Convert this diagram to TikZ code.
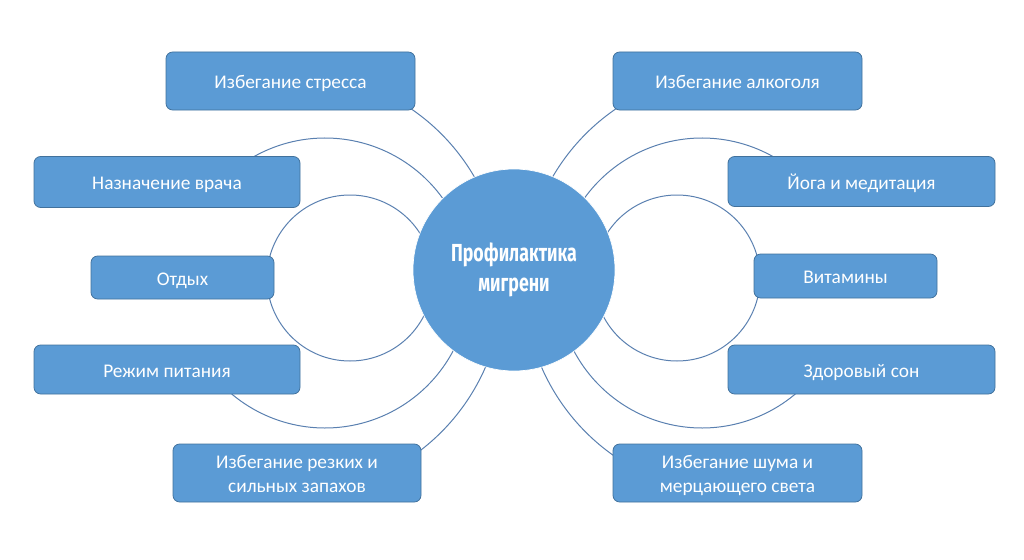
\documentclass[tikz,border=0pt]{standalone}
\usepackage{fontspec}
\setmainfont{Carlito}
\newfontfamily\condfont[FakeStretch=0.72]{Fira Sans}
\definecolor{boxblue}{HTML}{5B9BD5}
\definecolor{edgeblue}{HTML}{41719C}
\definecolor{arcblue}{HTML}{5A80B0}
\begin{document}
\begin{tikzpicture}[x=0.75pt,y=-0.75pt,
  box/.style={rectangle, rounded corners=5pt, fill=boxblue, draw=edgeblue, line width=0.6pt,
    text=white, font=\fontsize{14.5}{18}\selectfont, align=center, inner sep=0pt,
    text height=11.5pt, text depth=0pt},
  twoline/.style={text height=29.5pt, text depth=0pt},
  arcline/.style={draw=arcblue, line width=0.75pt},
  hub/.style={circle, fill=boxblue, draw=white, line width=0.5pt, minimum size=151.5pt, inner sep=0pt,
    text=white, align=center, font=\condfont\bfseries\fontsize{18.5}{22.5}\selectfont}]
\useasboundingbox (0,0) rectangle (1024,560);
% arc centres
\coordinate (oL) at (292,283);
\coordinate (mL) at (325,283);
\coordinate (iL) at (350,278);
\coordinate (oR) at (735,283);
\coordinate (mR) at (702,283);
\coordinate (iR) at (677,278);
% left arcs
\draw[arcline] ([shift={(-60:211)}]oL) arc[start angle=-60, end angle=-20, radius=211];
\draw[arcline] ([shift={(60:211)}]oL) arc[start angle=60, end angle=20, radius=211];
\draw[arcline] ([shift={(-135:145)}]mL) arc[start angle=-135, end angle=-20, radius=145];
\draw[arcline] ([shift={(135:145)}]mL) arc[start angle=135, end angle=20, radius=145];
\draw[arcline] ([shift={(180:83)}]iL) arc[start angle=180, end angle=345, radius=83];
\draw[arcline] ([shift={(180:83)}]iL) arc[start angle=180, end angle=15, radius=83];
% right arcs
\draw[arcline] ([shift={(-120:211)}]oR) arc[start angle=-120, end angle=-160, radius=211];
\draw[arcline] ([shift={(120:211)}]oR) arc[start angle=120, end angle=160, radius=211];
\draw[arcline] ([shift={(-45:145)}]mR) arc[start angle=-45, end angle=-160, radius=145];
\draw[arcline] ([shift={(45:145)}]mR) arc[start angle=45, end angle=160, radius=145];
\draw[arcline] ([shift={(0:83)}]iR) arc[start angle=0, end angle=-165, radius=83];
\draw[arcline] ([shift={(0:83)}]iR) arc[start angle=0, end angle=165, radius=83];
% hub
\node[hub] (c) at (514,270) {Профилактика\\мигрени};
% left boxes
\node[box, minimum width=186.75pt, minimum height=43.5pt] (s1) at (290.5,81) {Избегание стресса};
\node[box, minimum width=199.5pt, minimum height=38.25pt] (s2) at (167,182) {Назначение врача};
\node[box, minimum width=137.25pt, minimum height=32.25pt] (s3) at (182.5,277.5) {Отдых};
\node[box, minimum width=199.5pt, minimum height=36.75pt] (s4) at (167,369.5) {Режим питания};
\node[box, twoline, minimum width=186pt, minimum height=43.5pt] (s5) at (297,473) {Избегание резких и\\сильных запахов};
% right boxes
\node[box, minimum width=186.75pt, minimum height=43.5pt] (r1) at (737.5,81) {Избегание алкоголя};
\node[box, minimum width=200.25pt, minimum height=37.5pt] (r2) at (861.5,181.5) {Йога и медитация};
\node[box, minimum width=137.25pt, minimum height=33pt] (r3) at (845.5,276) {Витамины};
\node[box, minimum width=200.25pt, minimum height=36.75pt] (r4) at (861.5,369.5) {Здоровый сон};
\node[box, twoline, minimum width=186.75pt, minimum height=43.5pt] (r5) at (737.5,473) {Избегание шума и\\мерцающего света};
\end{tikzpicture}
\end{document}
